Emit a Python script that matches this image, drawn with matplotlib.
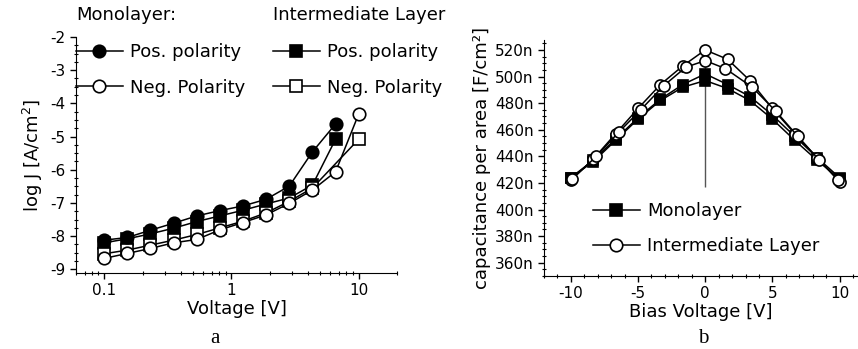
import numpy as np
import matplotlib
matplotlib.use('Agg')
import matplotlib.pyplot as plt
from matplotlib.lines import Line2D
from matplotlib.ticker import MultipleLocator, LogLocator, NullFormatter, FuncFormatter

# ---- data for panel a (log J vs voltage) ----
voltage = [0.1, 0.152, 0.231, 0.351, 0.534, 0.811, 1.23, 1.87, 2.85, 4.33, 6.58, 10]
mono_pos = [-8.12, -8.04, -7.82, -7.61, -7.39, -7.23, -7.09, -6.89, -6.49, -5.46, -4.62]
mono_neg = [-8.67, -8.52, -8.37, -8.2, -8.1, -7.81, -7.59, -7.36, -7.01, -6.61, -6.06, -4.32]
inter_pos = [-8.2, -8.08, -7.93, -7.76, -7.56, -7.39, -7.22, -7.03, -6.85, -6.46, -5.08]
voltage_inter_neg = [0.1, 0.152, 0.231, 0.351, 0.534, 0.811, 1.23, 1.87, 2.85, 4.33, 10]
inter_neg = [-8.53, -8.42, -8.27, -8.12, -7.95, -7.75, -7.55, -7.3, -6.95, -6.55, -5.08]

# ---- data for panel b (capacitance vs bias) ----
bias_a = [-10, -8.33, -6.67, -5, -3.33, -1.67, 0, 1.67, 3.33, 5, 6.67, 8.33, 10]
bias_b = [-9.9, -8.1, -6.45, -4.8, -3.1, -1.45, 0, 1.5, 3.5, 5.25, 6.9, 8.5, 9.9]
cap_mono_a = [424, 437, 453, 469, 483, 494, 502, 494, 485, 471, 455, 439, 424]
cap_mono_b = [424, 436, 452, 468, 482, 492, 497, 491, 482, 468, 452, 437, 423]
cap_inter_a = [422, 438, 457, 476, 494, 508, 520, 513, 497, 476, 457, 439, 421]
cap_inter_b = [423, 440, 458, 475, 493, 507, 512, 506, 492, 474, 455, 437, 422]

plt.rcParams['font.family'] = ['DejaVu Sans']
plt.rcParams['axes.unicode_minus'] = False  # plain hyphen minus like the original
W, H = 858, 349
fig = plt.figure(figsize=(W / 100, H / 100), dpi=100)

def px_axes(x0, y0, x1, y1):
    # axes rectangle given in pixel coords (top-left origin)
    return fig.add_axes([x0 / W, 1 - y1 / H, (x1 - x0) / W, (y1 - y0) / H])

def style_axes(ax):
    ax.spines['top'].set_visible(False)
    ax.spines['right'].set_visible(False)
    ax.tick_params(which='major', direction='out', length=4, width=1, labelsize=11)
    ax.tick_params(which='minor', direction='inout', length=3, width=0.8)

# ---------------- panel a ----------------
ax1 = px_axes(76, 37, 397, 273)
style_axes(ax1)
line_kw = dict(color='black', lw=1.1, mec='black', mew=1.2)
ax1.plot(voltage[:len(inter_pos)], inter_pos, marker='s', ms=8, mfc='black', **line_kw)
ax1.plot(voltage_inter_neg, inter_neg, marker='s', ms=8, mfc='white', **line_kw)
ax1.plot(voltage[:len(mono_pos)], mono_pos, marker='o', ms=9, mfc='black', **line_kw)
ax1.plot(voltage, mono_neg, marker='o', ms=9, mfc='white', **line_kw)
ax1.set_xscale('log')
ax1.set_xlim(0.06, 20)
ax1.set_ylim(-9.11, -2)
ax1.xaxis.set_major_locator(LogLocator(base=10))
ax1.xaxis.set_major_formatter(FuncFormatter(lambda v, p: f'{v:g}'))
ax1.xaxis.set_minor_formatter(NullFormatter())
ax1.yaxis.set_major_locator(MultipleLocator(1))
ax1.yaxis.set_minor_locator(MultipleLocator(0.25))
ax1.set_xlabel('Voltage [V]', fontsize=13, labelpad=1)
ax1.set_ylabel('log J [A/cm$^2$]', fontsize=13, labelpad=4)

# legends above panel a
h_mp = Line2D([], [], marker='o', ms=9, mfc='black', **line_kw)
h_mn = Line2D([], [], marker='o', ms=9, mfc='white', **line_kw)
h_ip = Line2D([], [], marker='s', ms=8, mfc='black', **line_kw)
h_in = Line2D([], [], marker='s', ms=8, mfc='white', **line_kw)
leg_kw = dict(frameon=False, fontsize=13, title_fontsize=13, handlelength=2.6,
              handletextpad=0.4, labelspacing=0.95, borderpad=0, borderaxespad=0,
              alignment='left', loc='upper left')
leg1 = fig.legend([h_mp, h_mn], ['Pos. polarity', 'Neg. Polarity'], title='Monolayer:',
                  bbox_to_anchor=(76 / W, 1 - 6 / H), **leg_kw)
leg2 = fig.legend([h_ip, h_in], ['Pos. polarity', 'Neg. Polarity'], title='Intermediate Layer',
                  bbox_to_anchor=(273 / W, 1 - 6 / H), **leg_kw)
for lg in (leg1, leg2):
    lg._legend_box.sep = 14

# ---------------- panel b ----------------
ax2 = px_axes(544, 40, 857, 276)
style_axes(ax2)
ax2.vlines(0, 417, 522, color='#555555', lw=1)
ax2.plot(bias_a, cap_mono_a, marker='s', ms=7, mfc='black', **line_kw)
ax2.plot(bias_a, cap_mono_b, marker='s', ms=7, mfc='black', **line_kw)
ax2.plot(bias_a, cap_inter_a, marker='o', ms=8, mfc='white', **line_kw)
ax2.plot(bias_b, cap_inter_b, marker='o', ms=8, mfc='white', **line_kw)
ax2.set_xlim(-12, 11.3)
ax2.set_ylim(350, 527.5)
ax2.xaxis.set_major_locator(MultipleLocator(5))
ax2.xaxis.set_minor_locator(MultipleLocator(1))
ax2.yaxis.set_minor_locator(MultipleLocator(5))
ax2.set_yticks(np.arange(360, 521, 20))
ax2.yaxis.set_major_formatter(FuncFormatter(lambda v, p: f'{v:.0f}n'))
ax2.set_xlabel('Bias Voltage [V]', fontsize=13, labelpad=1)
ax2.set_ylabel('capacitance per area [F/cm²]', fontsize=13, labelpad=3)

h_m = Line2D([], [], marker='s', ms=8, mfc='black', **line_kw)
h_i = Line2D([], [], marker='o', ms=9, mfc='white', **line_kw)
ax2.legend([h_m, h_i], ['Monolayer', 'Intermediate Layer'], frameon=False, fontsize=13,
           handlelength=2.6, handletextpad=0.4, labelspacing=0.95, borderpad=0,
           borderaxespad=0, loc='upper left',
           bbox_to_anchor=((593 - 544) / 313, 1 - (202 - 40) / 236))

# panel letters
fig.text(215 / W, 1 - 343 / H, 'a', family='Liberation Serif', fontsize=15, ha='center', va='baseline')
fig.text(703 / W, 1 - 343 / H, 'b', family='Liberation Serif', fontsize=15, ha='center', va='baseline')

fig.savefig('out.png', dpi=100)
